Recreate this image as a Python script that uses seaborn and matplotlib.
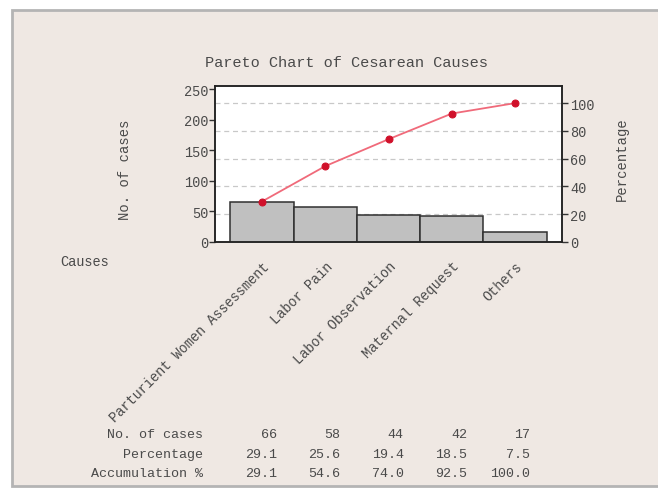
import matplotlib
matplotlib.use("Agg")
import matplotlib.pyplot as plt
import matplotlib.transforms as mtransforms
from matplotlib.patches import Rectangle
import seaborn as sns
import pandas as pd

causes = ["Parturient Women Assessment", "Labor Pain", "Labor Observation",
          "Maternal Request", "Others"]
counts = [66, 58, 44, 42, 17]
percentage = [29.1, 25.6, 19.4, 18.5, 7.5]
accumulation = [29.1, 54.6, 74.0, 92.5, 100.0]
pct_ticks = [0, 20, 40, 60, 80, 100]
count_ticks = [0, 50, 100, 150, 200, 250]

sns.set_style("white")
plt.rcParams["font.family"] = ["Liberation Mono", "DejaVu Sans"]
TXT = "#4a4a4a"

df = pd.DataFrame({"cause": causes, "count": counts, "cum": accumulation})
total = sum(counts)

fig = plt.figure(figsize=(6.58, 4.89), dpi=100)
fig.patch.set_facecolor("white")
fig.patches.append(Rectangle((12 / 658, 2 / 489), 1.0, 1 - 13 / 489,
                             transform=fig.transFigure, facecolor="#efe8e3",
                             edgecolor="#b4b4b4", linewidth=2, zorder=-10))

ax = fig.add_axes([215 / 658, 1 - 243 / 489, (562 - 215) / 658, (243 - 87) / 489])
ax.set_facecolor("white")

sns.barplot(data=df, x="cause", y="count", ax=ax, width=1.0, color="#c0c0c0",
            edgecolor="#303030", linewidth=1.1, saturation=1, zorder=3)

top_count = 255
ax.set_ylim(0, top_count)
ax.set_xlim(-0.74, 4.74)
for p in pct_ticks[1:]:
    ax.axhline(p / 100 * total, color="#c8c8c8", linestyle=(0, (4, 3)),
               linewidth=0.9, zorder=1)

ax.set_yticks(count_ticks)
ax.set_xticks(range(len(causes)))
ax.set_xticklabels(causes, rotation=45, ha="right", va="top",
                   rotation_mode="anchor", fontsize=9.8, color=TXT)
ax.tick_params(axis="x", direction="out", length=4, width=1, pad=8, colors="#333333",
               labelcolor=TXT)
ax.tick_params(axis="y", direction="out", length=4, width=1, pad=1, colors="#333333",
               labelsize=9.8, labelcolor=TXT)
ax.set_xlabel("")
ax.set_ylabel("")
for s in ax.spines.values():
    s.set_color("#222222")
    s.set_linewidth(1.1)

ax2 = ax.twinx()
sns.lineplot(data=df, x="cause", y="cum", ax=ax2, color="#f06a7a", linewidth=1.3,
             marker="o", markersize=5, markerfacecolor="#d0102a",
             markeredgecolor="#d0102a", zorder=5)
ax2.set_ylim(0, top_count / total * 100)
ax2.set_xlim(-0.74, 4.74)
ax2.set_yticks(pct_ticks)
ax2.set_ylabel("")
ax2.set_xlabel("")
ax2.tick_params(axis="y", direction="out", length=4, width=1, pad=2, colors="#333333",
                labelsize=9.8, labelcolor=TXT)
for s in ax2.spines.values():
    s.set_color("#222222")
    s.set_linewidth(1.1)

fig.text(346 / 658, 1 - 63 / 489, "Pareto Chart of Cesarean Causes", ha="center",
         va="center", fontsize=11, color=TXT)
fig.text(125 / 658, 1 - 170 / 489, "No. of cases", rotation=90, ha="center",
         va="center", fontsize=10, color=TXT)
fig.text(622 / 658, 1 - 159 / 489, "Percentage", rotation=90, ha="center",
         va="center", fontsize=10, color=TXT)
fig.text(60 / 658, 1 - 262 / 489, "Causes", ha="left", va="center", fontsize=9.8,
         color=TXT)

row_names = ["No. of cases", "Percentage", "Accumulation %"]
row_vals = [[str(c) for c in counts],
            [f"{p:.1f}" for p in percentage],
            [f"{a:.1f}" for a in accumulation]]
row_y = [1 - 435 / 489, 1 - 455 / 489, 1 - 474 / 489]
trans = mtransforms.blended_transform_factory(ax.transData, fig.transFigure)
for name, vals, y in zip(row_names, row_vals, row_y):
    fig.text(203 / 658, y, name, ha="right", va="center", fontsize=9.6, color=TXT)
    for i, v in enumerate(vals):
        ax.text(i + 0.24, y, v, transform=trans, ha="right", va="center",
                fontsize=9.6, color=TXT, clip_on=False)

fig.savefig("out.png", dpi=100, facecolor=fig.get_facecolor())
